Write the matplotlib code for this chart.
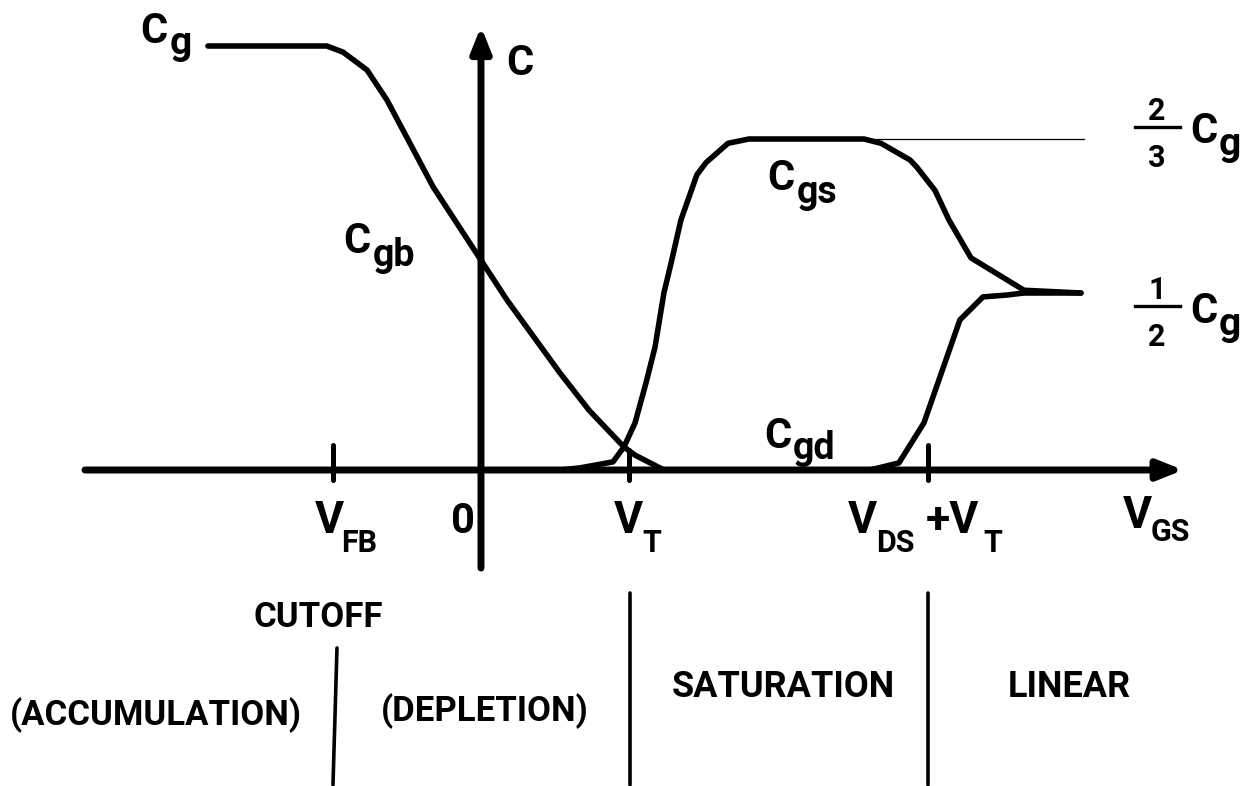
import numpy as np
import matplotlib
matplotlib.use("Agg")
import matplotlib.pyplot as plt
from matplotlib.patches import FancyArrowPatch

# Gate-voltage landmarks (in units of V_T)
V_FB = -1.0
V_ZERO = 0.0
V_T = 1.0
V_DS = 2.02

# Capacitance levels (in units of C_g)
CG_FULL = 1.0
CG_TWO_THIRDS = 2 / 3
CG_HALF = 1 / 2

# C_gb: full C_g in accumulation, falling through depletion to zero just past V_T
cgb_v = [-1.845, -1.041, -0.932, -0.770, -0.635, -0.324, 0.176, 0.534, 0.730,
         0.966, 1.041, 1.236]
cgb_c = [CG_FULL, CG_FULL, 0.978, 0.914, 0.806, 0.615, 0.480, 0.274, 0.169,
         0.065, 0.042, 0.0]

# C_gs: rises at V_T to 2/3 C_g in saturation, falls to 1/2 C_g in the linear region
cgs_v = [0.534, 0.669, 0.892, 0.966, 1.041, 1.115, 1.176, 1.236, 1.284, 1.351,
         1.459, 1.520, 1.669, 1.811, 2.588, 2.703, 2.899, 2.946, 3.068, 3.162,
         3.311, 3.669, 4.054]
cgs_c = [0.0, 0.006, 0.023, 0.065, 0.133, 0.246, 0.347, 0.500, 0.532, 0.579,
         0.628, 0.641, 0.662, CG_TWO_THIRDS, CG_TWO_THIRDS, 0.662, 0.644, 0.636,
         0.611, 0.579, 0.538, 0.503, CG_HALF]

# C_gd: zero until V_DS + V_T, then rises to 1/2 C_g
cgd_v = [2.628, 2.824, 2.993, 3.236, 3.392, 3.547, 3.669, 4.054]
cgd_c = [0.0, 0.020, 0.133, 0.424, 0.489, 0.494, CG_HALF, CG_HALF]

# Reference level continuing the 2/3 C_g plateau
ref_v = [2.588, 4.074]

# Operating-region labels
regions = ["(ACCUMULATION)", "(DEPLETION)", "SATURATION", "LINEAR"]

# Schematic (not-to-scale) capacitance axis: piecewise linear between levels
C_KNOTS = [-3.0, 0.0, CG_HALF, CG_TWO_THIRDS, CG_FULL, 3.0]
H_KNOTS = [-1062.0, 0.0, 177.0, 331.0, 424.0, 982.0]


def c_forward(c):
    return np.interp(c, C_KNOTS, H_KNOTS)


def c_inverse(h):
    return np.interp(h, H_KNOTS, C_KNOTS)


plt.rcParams["font.family"] = ["Roboto", "Liberation Sans", "DejaVu Sans"]

W, H = 1243, 786
fig = plt.figure(figsize=(W / 100, H / 100), dpi=100)
fig.patch.set_facecolor("white")
ax = fig.add_axes([0, 0, 1, 1])
ax.set_yscale("function", functions=(c_forward, c_inverse))
ax.set_xlim(-3.25, 5.149)
ax.set_ylim(c_inverse(-316), c_inverse(470))
ax.axis("off")

curve_kw = dict(color="black", lw=4.0, solid_capstyle="round", solid_joinstyle="round")
ax.plot(cgb_v, cgb_c, **curve_kw)
ax.plot(cgs_v, cgs_c, **curve_kw)
ax.plot(cgd_v, cgd_c, **curve_kw)
ax.plot(ref_v, [CG_TWO_THIRDS, CG_TWO_THIRDS], color="black", lw=0.9)

# Axes with arrowheads
arrow_kw = dict(arrowstyle="-|>,head_length=1.5,head_width=0.6", mutation_scale=10,
                color="black", lw=5.0, shrinkA=0, shrinkB=0)
ax.add_patch(FancyArrowPatch((-2.676, 0.0), (4.745, 0.0), **arrow_kw))
ax.add_patch(FancyArrowPatch((V_ZERO, -0.277), (V_ZERO, 1.070), **arrow_kw))

# Tick marks at the landmark voltages
tick_kw = dict(color="black", lw=3.6, solid_capstyle="round")
ax.plot([V_FB, V_FB], [-0.028, 0.071], **tick_kw)
ax.plot([V_T, V_T], [-0.028, 0.056], **tick_kw)
ax.plot([V_DS + V_T, V_DS + V_T], [-0.028, 0.071], **tick_kw)

# Region dividers below the plot
xt = ax.get_xaxis_transform()
div_kw = dict(color="black", lw=2.6, solid_capstyle="round")
ax.plot([-0.973, V_FB], [0.1756, 0.0013], transform=xt, **div_kw)
ax.plot([V_T + 0.007, V_T + 0.007], [0.2455, 0.0013], transform=xt, **div_kw)
ax.plot([V_DS + V_T, V_DS + V_T], [0.2455, 0.0013], transform=xt, **div_kw)


def put(x, y, s, size, ha="left"):
    fig.text(x / W, 1 - y / H, s, fontsize=size, fontweight="bold",
             ha=ha, va="baseline", color="black")


# Curve labels
put(140, 43, "C", 30); put(170, 54, "g", 28)
put(343, 253, "C", 30); put(373, 266, "gb", 27)
put(767, 190, "C", 30); put(797, 203, "gs", 27)
put(764, 448, "C", 30); put(793, 459, "gd", 27)
put(506, 75, "C", 30)

# Level labels at the right
for num, den, bar_y, c_base in [("2", "3", 127, 143), ("1", "2", 306, 323)]:
    put(1157, bar_y - 7, num, 22, ha="center")
    put(1157, bar_y + 40, den, 22, ha="center")
    fig.add_artist(plt.Line2D([1135 / W, 1180 / W], [1 - bar_y / H, 1 - bar_y / H],
                              color="black", lw=2.4))
    put(1190, c_base, "C", 30)
    put(1219, c_base + 12, "g", 28)

# Voltage labels
put(315, 533, "V", 32); put(341, 552, "FB", 22)
put(451, 533, "0", 30)
put(614, 533, "V", 32); put(642, 552, "T", 22)
put(848, 533, "V", 32); put(876, 552, "DS", 22)
put(926, 533, "+V", 32); put(983, 552, "T", 22)
put(1123, 528, "V", 32); put(1151, 541, "GS", 22)

# Operating regions
put(318, 627, "CUTOFF", 25, ha="center")
put(156, 725, regions[0], 25, ha="center")
put(485, 721, regions[1], 25, ha="center")
put(783, 697, regions[2], 26, ha="center")
put(1069, 697, regions[3], 26, ha="center")

fig.savefig("out.png", dpi=100, facecolor="white")
